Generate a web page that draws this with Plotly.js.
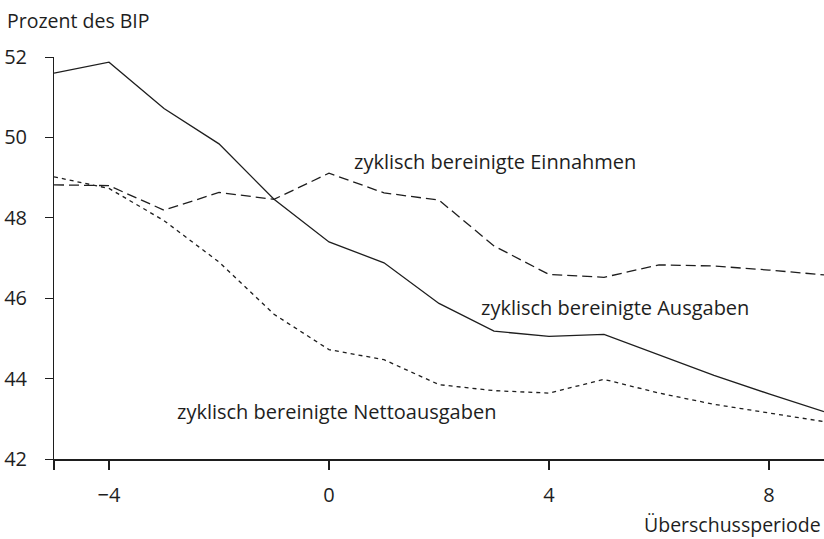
<!DOCTYPE html>
<html>
<head>
<meta charset="utf-8">
<script src="https://cdn.plot.ly/plotly-3.0.1.min.js"></script>
<style>
  html, body { margin: 0; padding: 0; background: #fff; }
  #chart { width: 824px; height: 539px; }
</style>
</head>
<body>
<div id="chart"></div>
<script>
// Überschussperioden (Jahre relativ zum Beginn)
const perioden = [-5, -4, -3, -2, -1, 0, 1, 2, 3, 4, 5, 6, 7, 8, 9];

// Prozent des BIP
const ausgaben = [51.6, 51.87, 50.72, 49.84, 48.46, 47.4, 46.88, 45.87, 45.18, 45.05, 45.1, 44.58, 44.08, 43.62, 43.18];
const einnahmen = [48.82, 48.8, 48.19, 48.63, 48.46, 49.11, 48.62, 48.44, 47.3, 46.59, 46.52, 46.83, 46.8, 46.7, 46.58];
const nettoausgaben = [49.02, 48.73, 47.93, 46.9, 45.6, 44.72, 44.47, 43.85, 43.7, 43.64, 43.98, 43.64, 43.36, 43.14, 42.93];

const xTicks = [-5, -4, 0, 4, 8];
const xTickText = ['', '\u22124', '0', '4', '8'];
const yTicks = [42, 44, 46, 48, 50, 52];

const ink = '#1e1e1e';
const font = 'Open Sans, Noto Sans, sans-serif';

const traces = [
    { x: perioden, y: ausgaben, mode: 'lines', line: { color: ink, width: 1.3 } },
    { x: perioden, y: einnahmen, mode: 'lines', line: { color: ink, width: 1.3, dash: '10px,5px' } },
    { x: perioden, y: nettoausgaben, mode: 'lines', line: { color: ink, width: 1.3, dash: '4px,4px' } }
];

const layout = {
    width: 824, height: 539,
    margin: { l: 54, r: 0, t: 57, b: 80 },
    paper_bgcolor: '#fff', plot_bgcolor: '#fff',
    showlegend: false,
    font: { family: font, size: 19.5, color: ink },
    xaxis: {
        range: [-5, 9], tickvals: xTicks, ticktext: xTickText,
        showgrid: false, zeroline: false,
        showline: true, linecolor: ink, linewidth: 2,
        ticks: 'outside', ticklen: 9, tickwidth: 1.5, tickcolor: ink,
        ticklabelstandoff: 8, tickfont: { size: 20 }
    },
    yaxis: {
        range: [42, 52], tickvals: yTicks,
        showgrid: false, zeroline: false,
        showline: true, linecolor: ink, linewidth: 1,
        ticks: 'outside', ticklen: 8, tickwidth: 1, tickcolor: ink,
        ticklabelstandoff: 14, tickfont: { size: 20 }
    },
    annotations: [
        { text: 'Prozent des BIP', xref: 'paper', yref: 'paper', x: -0.063, y: 1.09,
          xanchor: 'left', yanchor: 'middle', showarrow: false },
        { text: 'Überschussperiode', xref: 'paper', yref: 'paper', x: 0.998, y: -0.162,
          xanchor: 'right', yanchor: 'middle', showarrow: false, borderpad: 0 },
        { text: 'zyklisch bereinigte Einnahmen', x: 0.42, y: 49.39, font: { size: 20 },
          xanchor: 'left', yanchor: 'middle', showarrow: false },
        { text: 'zyklisch bereinigte Ausgaben', x: 2.73, y: 45.76, font: { size: 20 },
          xanchor: 'left', yanchor: 'middle', showarrow: false },
        { text: 'zyklisch bereinigte Nettoausgaben', x: -2.8, y: 43.18, font: { size: 20 },
          xanchor: 'left', yanchor: 'middle', showarrow: false }
    ]
};

Plotly.newPlot('chart', traces, layout, { staticPlot: true });
</script>
</body>
</html>
